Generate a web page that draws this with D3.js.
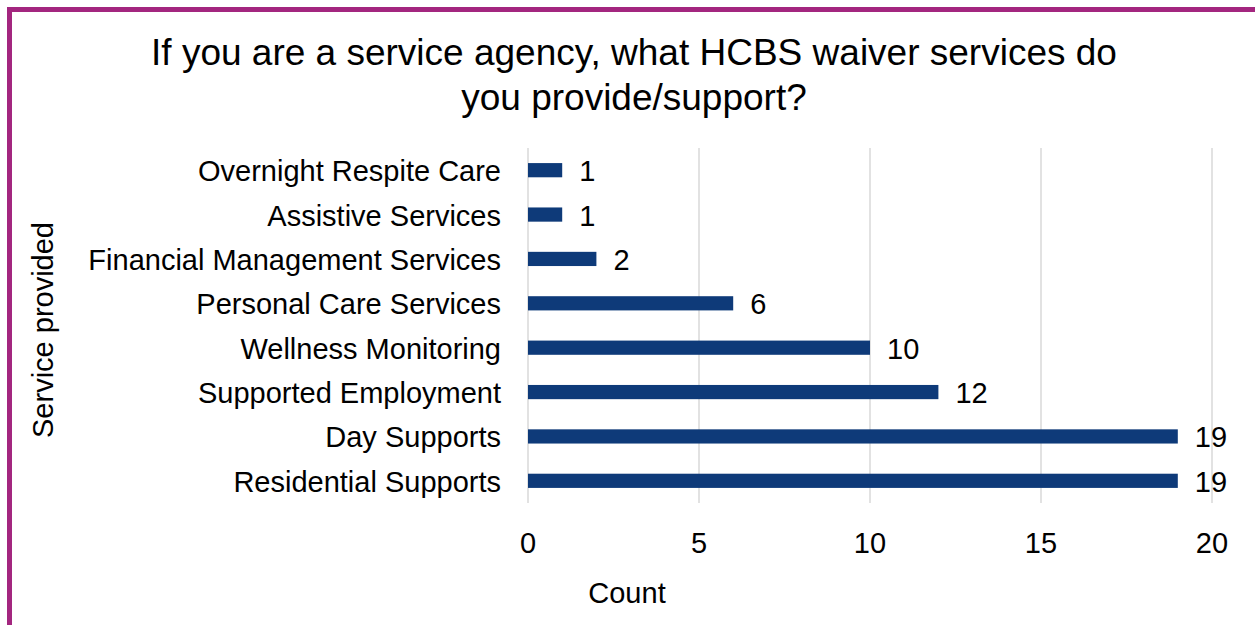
<!DOCTYPE html>
<meta charset="utf-8">
<style>
body { margin: 0; background: #fff; }
text { font-family: "Liberation Sans", Arial, sans-serif; fill: #000; }
</style>
<svg width="1255" height="625"></svg>
<script src="https://d3js.org/d3.v7.min.js"></script>
<script>

var services = ["Overnight Respite Care", "Assistive Services", "Financial Management Services",
  "Personal Care Services", "Wellness Monitoring", "Supported Employment",
  "Day Supports", "Residential Supports"];
var counts = [1, 1, 2, 6, 10, 12, 19, 19];
var xTicks = [0, 5, 10, 15, 20];

var svg = d3.select("svg");

// purple frame (only top and left edges visible)
svg.append("rect")
  .attr("x", 9.5).attr("y", 9.5)
  .attr("width", 1270).attr("height", 640)
  .attr("fill", "none")
  .attr("stroke", "#a3267f")
  .attr("stroke-width", 5);

var x = d3.scaleLinear().domain([0, 20]).range([528, 1212]);
var y = d3.scaleBand().domain(services).range([148, 503]).paddingInner(0.68).paddingOuter(0.34);

// gridlines
svg.append("g").selectAll("line")
  .data(xTicks)
  .join("line")
    .attr("x1", d => x(d)).attr("x2", d => x(d))
    .attr("y1", 148).attr("y2", 503)
    .attr("stroke", "#d9d9d9")
    .attr("stroke-width", 1.5);

// x tick labels
svg.append("g").selectAll("text")
  .data(xTicks)
  .join("text")
    .attr("x", d => x(d))
    .attr("y", 553)
    .attr("text-anchor", "middle")
    .style("font-size", "29px")
    .text(d => d);

// bars
svg.append("g").selectAll("rect")
  .data(counts)
  .join("rect")
    .attr("x", x(0))
    .attr("y", (d, i) => y(services[i]))
    .attr("width", d => x(d) - x(0))
    .attr("height", y.bandwidth())
    .attr("fill", "#0e3a79");

// value labels
svg.append("g").selectAll("text")
  .data(counts)
  .join("text")
    .attr("x", d => x(d) + 17)
    .attr("y", (d, i) => y(services[i]) + y.bandwidth() / 2)
    .attr("dy", "0.38em")
    .style("font-size", "29px")
    .text(d => d);

// category labels
svg.append("g").selectAll("text")
  .data(services)
  .join("text")
    .attr("x", 501)
    .attr("y", d => y(d) + y.bandwidth() / 2)
    .attr("dy", "0.38em")
    .attr("text-anchor", "end")
    .style("font-size", "29px")
    .text(d => d);

// title
var title = svg.append("text")
  .attr("text-anchor", "middle")
  .style("font-size", "37px");
title.append("tspan").attr("x", 634).attr("y", 65)
  .text("If you are a service agency, what HCBS waiver services do");
title.append("tspan").attr("x", 634).attr("y", 110)
  .text("you provide/support?");

// axis titles
svg.append("text")
  .attr("x", 627).attr("y", 603)
  .attr("text-anchor", "middle")
  .style("font-size", "29px")
  .text("Count");

svg.append("text")
  .attr("transform", "translate(53,330) rotate(-90)")
  .attr("text-anchor", "middle")
  .style("font-size", "29px")
  .text("Service provided");

</script>
